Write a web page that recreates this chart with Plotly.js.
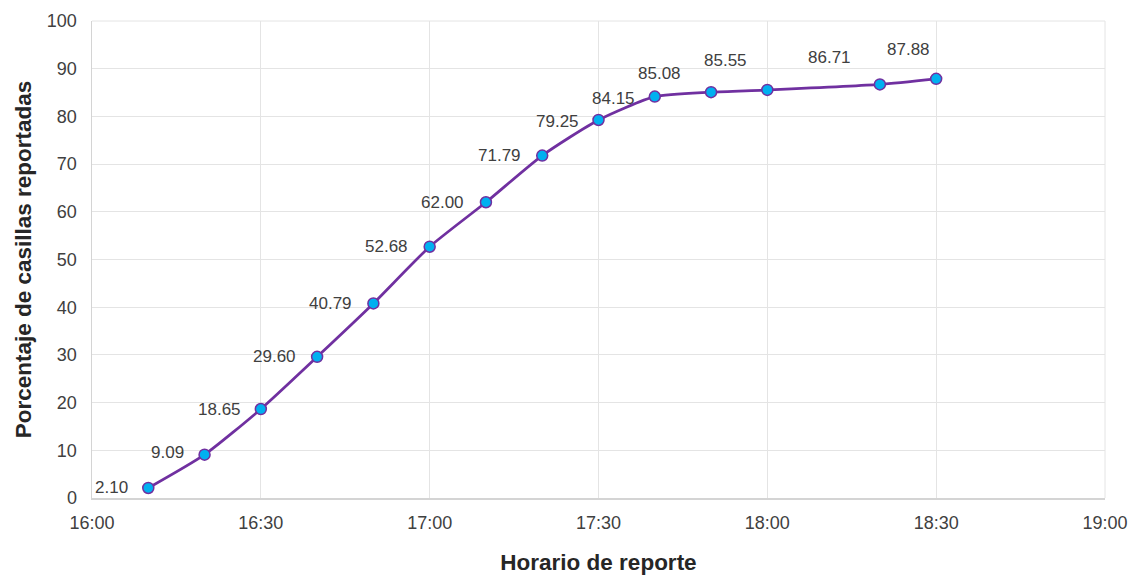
<!DOCTYPE html>
<html>
<head>
<meta charset="utf-8">
<script src="https://cdn.plot.ly/plotly-3.0.1.min.js"></script>
<style>html,body{margin:0;padding:0;background:#fff;}#chart{width:1137px;height:578px;}</style>
</head>
<body>
<div id="chart"></div>
<script>
const times = ["16:10","16:20","16:30","16:40","16:50","17:00","17:10","17:20","17:30","17:40","17:50","18:00","18:20","18:30"];
const percentages = [2.10, 9.09, 18.65, 29.60, 40.79, 52.68, 62.00, 71.79, 79.25, 84.15, 85.08, 85.55, 86.71, 87.88];
const labelShiftX = [-37,-37,-41,-43,-43,-43,-43,-43,-41,-41,-52,-42,-50,-28];
const labelShiftY = [0,2,0,0,0,0,0,0,-2,-2,19,29,27,29];

const day = "2000-01-01 ";
const xs = times.map(t => day + t);

const trace = {
  x: xs, y: percentages, type: "scatter", mode: "lines+markers",
  line: {color: "#7030A0", width: 2.75, shape: "spline", smoothing: 0.6},
  marker: {color: "#00B0F0", size: 11, line: {color: "#7030A0", width: 1.5}},
  hoverinfo: "skip"
};

const annotations = percentages.map((v, i) => ({
  x: xs[i], y: v, xref: "x", yref: "y", text: v.toFixed(2), showarrow: false,
  xanchor: "center", yanchor: "middle", xshift: labelShiftX[i], yshift: labelShiftY[i],
  font: {family: "Liberation Sans, Arial, sans-serif", size: 17, color: "#404040"}
}));

const layout = {
  width: 1137, height: 578,
  margin: {l: 92, r: 32, t: 21, b: 80},
  paper_bgcolor: "#fff", plot_bgcolor: "#fff",
  showlegend: false,
  font: {family: "Liberation Sans, Arial, sans-serif", color: "#404040"},
  xaxis: {
    type: "date", range: [day + "16:00", day + "19:00"],
    dtick: 30 * 60 * 1000, tick0: day + "16:00", tickformat: "%H:%M",
    showgrid: true, gridcolor: "#e4e4e4", gridwidth: 1,
    showline: true, linecolor: "#d4d4d4", linewidth: 1.5, mirror: false,
    ticks: "", ticklabelstandoff: 8,
    tickfont: {size: 18, color: "#404040"},
    title: {text: "<b>Horario de reporte</b>", font: {size: 22.5, color: "#262626"}, standoff: 22},
    zeroline: false
  },
  yaxis: {
    range: [0, 100], dtick: 10,
    showgrid: true, gridcolor: "#e4e4e4", gridwidth: 1,
    showline: true, linecolor: "#d4d4d4", linewidth: 1.5,
    ticks: "", ticklabelstandoff: 10,
    tickfont: {size: 18, color: "#404040"},
    title: {text: "<b>Porcentaje de casillas reportadas</b>", font: {size: 22.5, color: "#262626"}, standoff: 9},
    zeroline: false
  },
  shapes: [
    {type: "line", xref: "paper", yref: "paper", x0: 1, x1: 1, y0: 0, y1: 1, line: {color: "#e4e4e4", width: 1}},
    {type: "line", xref: "paper", yref: "paper", x0: 0, x1: 1, y0: 1, y1: 1, line: {color: "#e4e4e4", width: 1}}
  ],
  annotations: annotations
};

Plotly.newPlot("chart", [trace], layout, {displayModeBar: false, staticPlot: true});
</script>
</body>
</html>
